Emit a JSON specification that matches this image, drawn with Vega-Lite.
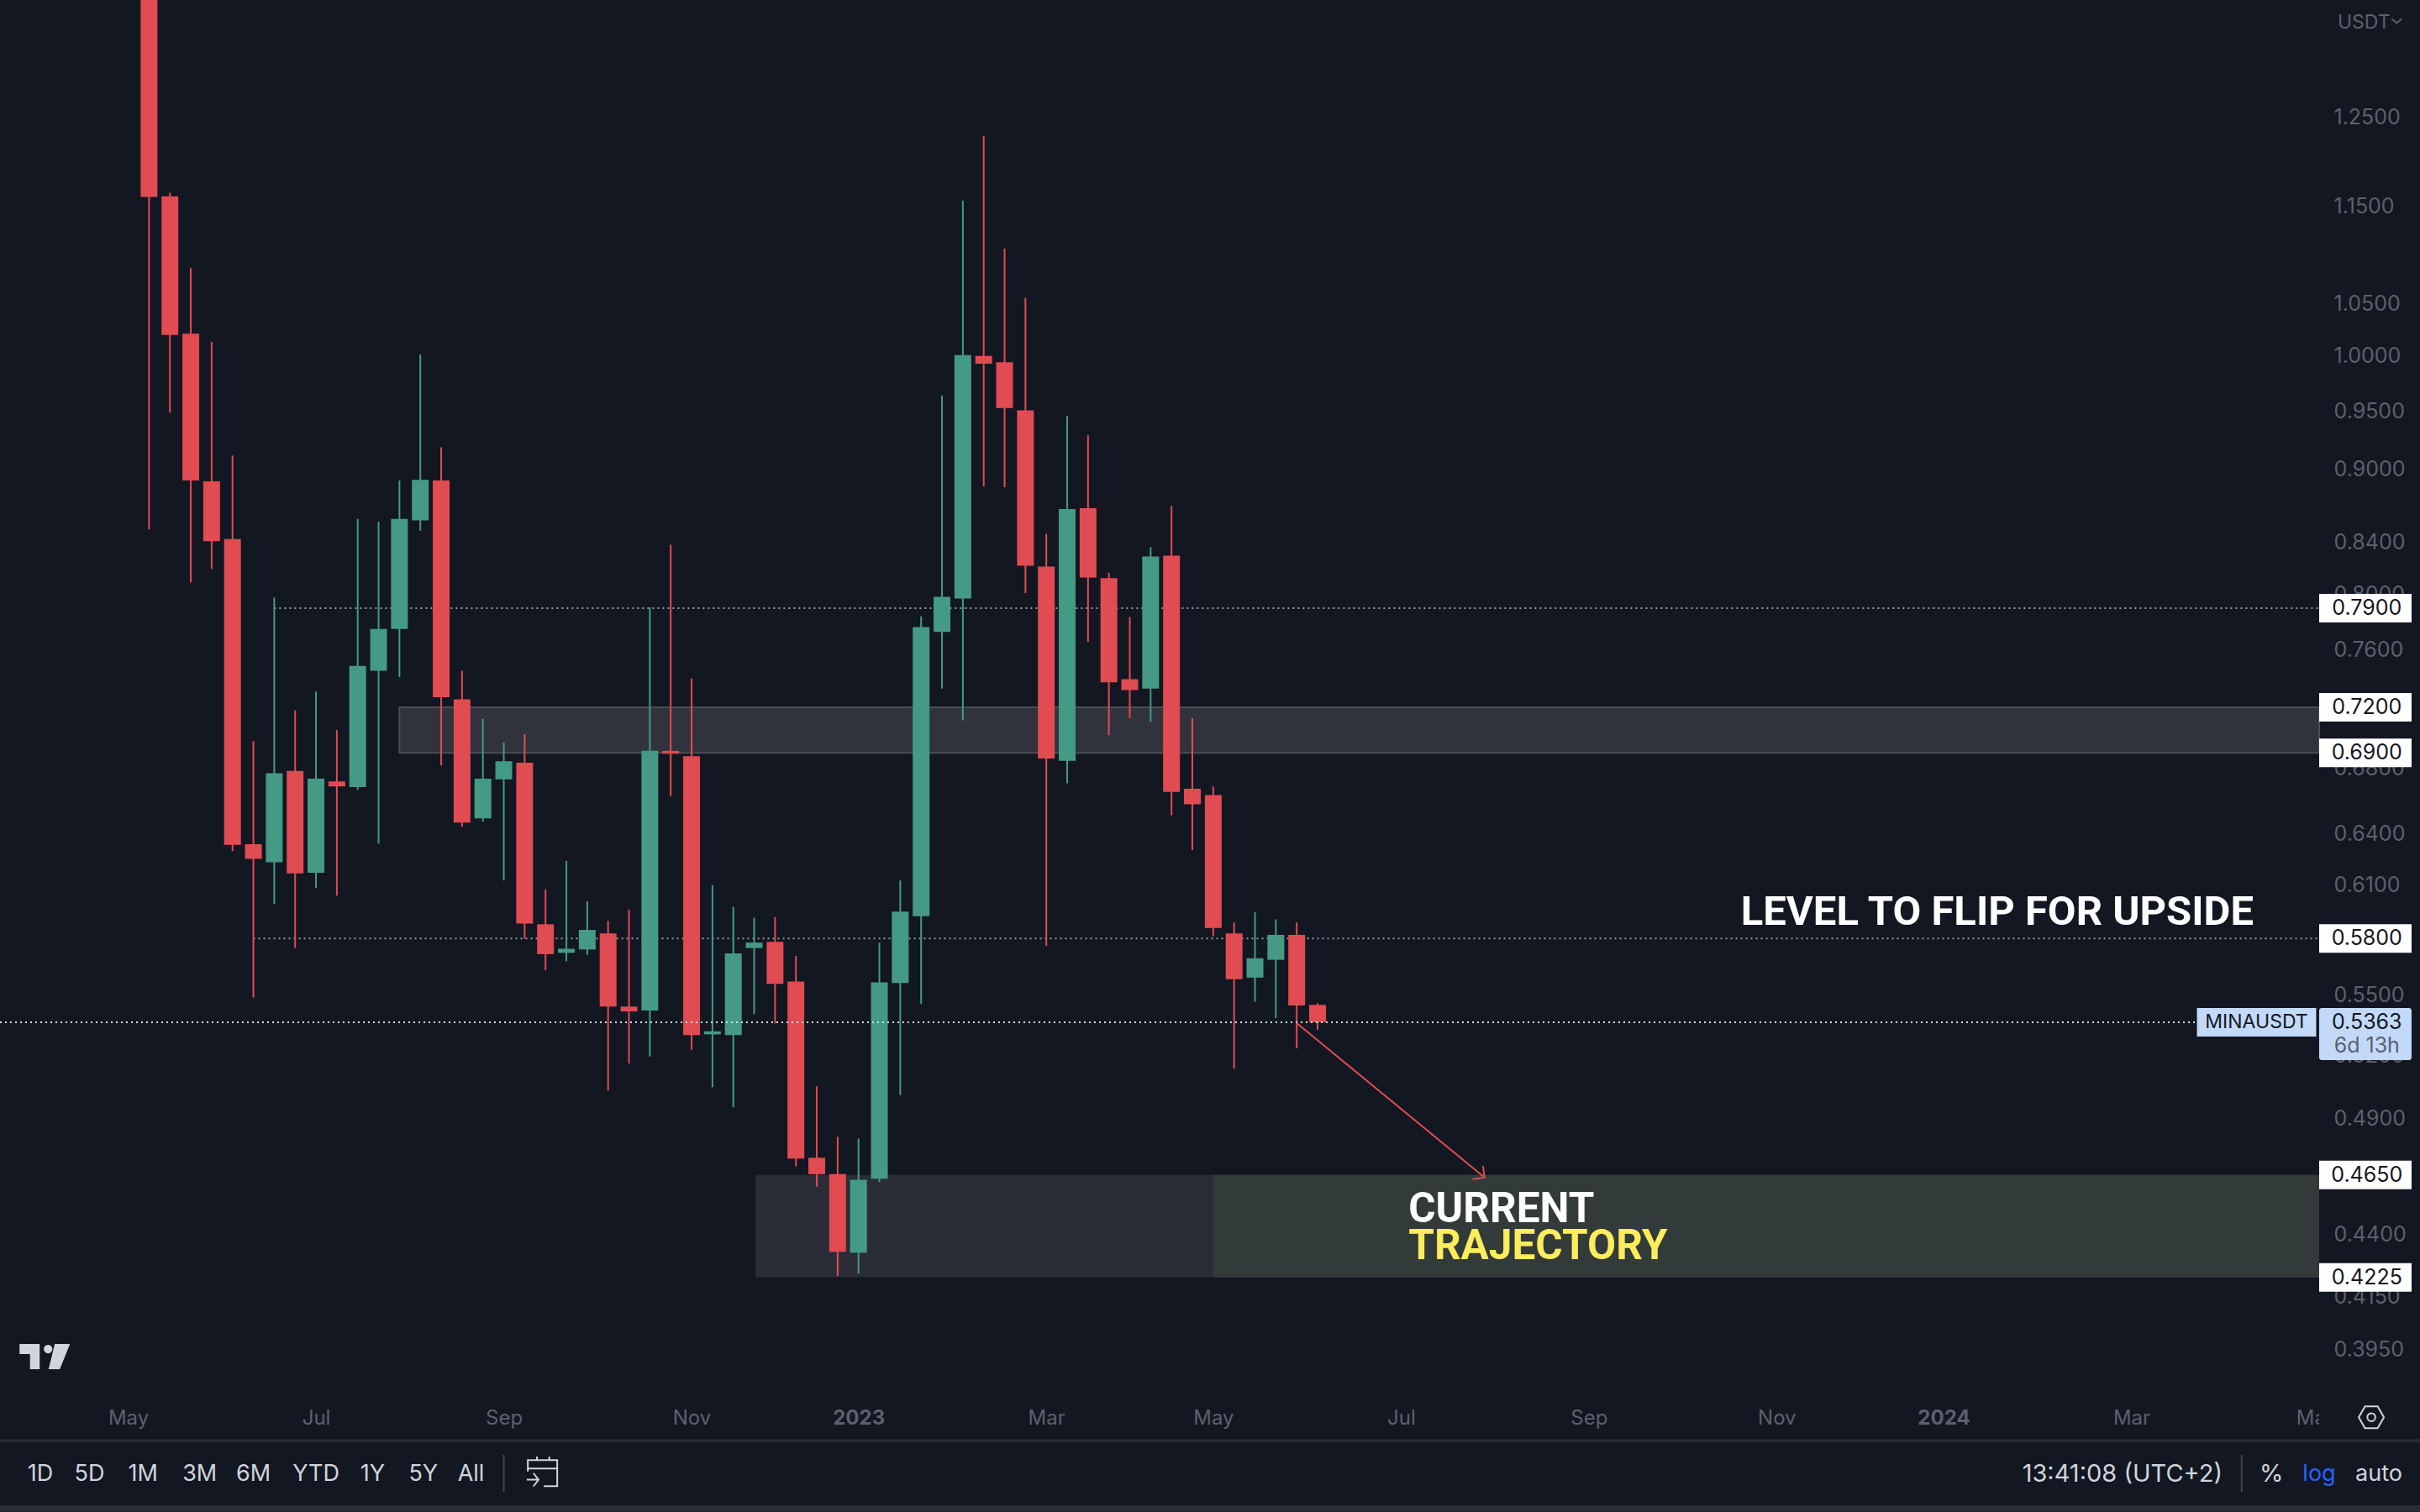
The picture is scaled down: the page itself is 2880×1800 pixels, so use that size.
{
  "$schema": "https://vega.github.io/schema/vega-lite/v6.json",
  "autosize": {"type": "none"},
  "width": 2760,
  "height": 1660,
  "padding": {"left": 0, "top": 0, "right": 120, "bottom": 140},
  "background": "#131722",
  "view": {"stroke": null},
  "config": {"font": "Inter", "scale": {"continuousPadding": 0}},
  "datasets": {
    "candles": [
      {"date":"2022-05-09","open":1.6,"high":1.72,"low":0.8504,"close":1.1603},
      {"date":"2022-05-16","open":1.161,"high":1.165,"low":0.9487,"close":1.0199},
      {"date":"2022-05-23","open":1.0212,"high":1.0857,"low":0.8093,"close":0.8901},
      {"date":"2022-05-30","open":0.8895,"high":1.0133,"low":0.8194,"close":0.841},
      {"date":"2022-06-06","open":0.8427,"high":0.9112,"low":0.6294,"close":0.6331},
      {"date":"2022-06-13","open":0.6335,"high":0.6976,"low":0.5489,"close":0.6249},
      {"date":"2022-06-20","open":0.6229,"high":0.7978,"low":0.599,"close":0.677},
      {"date":"2022-06-27","open":0.6784,"high":0.7179,"low":0.5749,"close":0.6164},
      {"date":"2022-07-04","open":0.6168,"high":0.7306,"low":0.608,"close":0.6735},
      {"date":"2022-07-11","open":0.6718,"high":0.7049,"low":0.6037,"close":0.6687},
      {"date":"2022-07-18","open":0.6683,"high":0.8587,"low":0.6665,"close":0.7485},
      {"date":"2022-07-25","open":0.7451,"high":0.8565,"low":0.6339,"close":0.7747},
      {"date":"2022-08-01","open":0.7747,"high":0.8901,"low":0.7407,"close":0.8587},
      {"date":"2022-08-08","open":0.8576,"high":1.0015,"low":0.8493,"close":0.8907},
      {"date":"2022-08-15","open":0.8901,"high":0.9183,"low":0.6819,"close":0.7268},
      {"date":"2022-08-22","open":0.7254,"high":0.7451,"low":0.6439,"close":0.6464},
      {"date":"2022-08-29","open":0.649,"high":0.7123,"low":0.6469,"close":0.6735},
      {"date":"2022-09-05","open":0.6731,"high":0.6967,"low":0.6124,"close":0.6846},
      {"date":"2022-09-12","open":0.6837,"high":0.7022,"low":0.5798,"close":0.5882},
      {"date":"2022-09-19","open":0.5878,"high":0.6073,"low":0.5631,"close":0.5716},
      {"date":"2022-09-26","open":0.5723,"high":0.6237,"low":0.5678,"close":0.5745},
      {"date":"2022-10-03","open":0.5741,"high":0.6006,"low":0.5712,"close":0.5847},
      {"date":"2022-10-10","open":0.5828,"high":0.5897,"low":0.5031,"close":0.5443},
      {"date":"2022-10-17","open":0.5443,"high":0.5959,"low":0.516,"close":0.5418},
      {"date":"2022-10-24","open":0.5422,"high":0.7906,"low":0.5194,"close":0.6913},
      {"date":"2022-10-31","open":0.6913,"high":0.8383,"low":0.6626,"close":0.6895},
      {"date":"2022-11-07","open":0.6879,"high":0.7397,"low":0.5227,"close":0.5299},
      {"date":"2022-11-14","open":0.5303,"high":0.6097,"low":0.5047,"close":0.5318},
      {"date":"2022-11-21","open":0.5299,"high":0.5974,"low":0.4953,"close":0.572},
      {"date":"2022-11-28","open":0.5749,"high":0.5914,"low":0.5404,"close":0.5778},
      {"date":"2022-12-05","open":0.5782,"high":0.5918,"low":0.5357,"close":0.5559},
      {"date":"2022-12-12","open":0.5572,"high":0.5707,"low":0.4687,"close":0.4721},
      {"date":"2022-12-19","open":0.4725,"high":0.5051,"low":0.4599,"close":0.4653},
      {"date":"2022-12-26","open":0.4653,"high":0.4818,"low":0.423,"close":0.4327},
      {"date":"2023-01-02","open":0.4324,"high":0.4811,"low":0.424,"close":0.4629},
      {"date":"2023-01-09","open":0.4633,"high":0.5778,"low":0.4619,"close":0.5567},
      {"date":"2023-01-16","open":0.5564,"high":0.6124,"low":0.5011,"close":0.5948},
      {"date":"2023-01-23","open":0.5922,"high":0.784,"low":0.5456,"close":0.7761},
      {"date":"2023-01-30","open":0.7727,"high":0.9637,"low":0.7328,"close":0.7984},
      {"date":"2023-02-06","open":0.7972,"high":1.1566,"low":0.7113,"close":1.0008},
      {"date":"2023-02-13","open":1.0001,"high":1.2284,"low":0.8852,"close":0.9929},
      {"date":"2023-02-20","open":0.9943,"high":1.1056,"low":0.8845,"close":0.9526},
      {"date":"2023-02-27","open":0.9505,"high":1.0561,"low":0.8013,"close":0.8219},
      {"date":"2023-03-06","open":0.8213,"high":0.8468,"low":0.5761,"close":0.6864},
      {"date":"2023-03-13","open":0.6849,"high":0.9457,"low":0.6706,"close":0.8667},
      {"date":"2023-03-20","open":0.8673,"high":0.9287,"low":0.7654,"close":0.813},
      {"date":"2023-03-27","open":0.8124,"high":0.8166,"low":0.7015,"close":0.737},
      {"date":"2023-04-03","open":0.7392,"high":0.7834,"low":0.7128,"close":0.7317},
      {"date":"2023-04-10","open":0.7328,"high":0.8364,"low":0.7102,"close":0.8291},
      {"date":"2023-04-17","open":0.8297,"high":0.8692,"low":0.6509,"close":0.6653},
      {"date":"2023-04-24","open":0.6672,"high":0.7128,"low":0.63,"close":0.6576},
      {"date":"2023-05-01","open":0.6633,"high":0.6686,"low":0.5812,"close":0.5858},
      {"date":"2023-05-08","open":0.5828,"high":0.5888,"low":0.5136,"close":0.5584},
      {"date":"2023-05-15","open":0.5592,"high":0.5944,"low":0.5467,"close":0.5694},
      {"date":"2023-05-22","open":0.5686,"high":0.5905,"low":0.5385,"close":0.582},
      {"date":"2023-05-29","open":0.582,"high":0.5888,"low":0.5234,"close":0.5448},
      {"date":"2023-06-05","open":0.5451,"high":0.5459,"low":0.5326,"close":0.5363}
    ],
    "levels": [
      {"date":"2022-06-20","end":"2024-05-06","price":0.79},
      {"date":"2022-06-13","end":"2024-05-06","price":0.58}
    ],
    "tags": [
      {"date":"2024-05-06","end":"2024-06-06","price":0.79},
      {"date":"2024-05-06","end":"2024-06-06","price":0.72},
      {"date":"2024-05-06","end":"2024-06-06","price":0.69},
      {"date":"2024-05-06","end":"2024-06-06","price":0.58},
      {"date":"2024-05-06","end":"2024-06-06","price":0.465},
      {"date":"2024-05-06","end":"2024-06-06","price":0.4225}
    ],
    "tagLabels": [
      {"label":"0.7900","date":"2024-05-22","price":0.79},
      {"label":"0.7200","date":"2024-05-22","price":0.72},
      {"label":"0.6900","date":"2024-05-22","price":0.69},
      {"label":"0.5800","date":"2024-05-22","price":0.58},
      {"label":"0.4650","date":"2024-05-22","price":0.465},
      {"label":"0.4225","date":"2024-05-22","price":0.4225},
      {"label":"0.5363","date":"2024-05-22","price":0.5363}
    ],
    "arrow": [
      {"part":"shaft","seq":1,"date":"2023-05-29","price":0.5359},
      {"part":"shaft","seq":2,"date":"2023-07-31","price":0.4639},
      {"part":"head","seq":1,"date":"2023-07-30T12:00:00Z","price":0.4689},
      {"part":"head","seq":2,"date":"2023-07-31","price":0.4639},
      {"part":"head","seq":3,"date":"2023-07-27","price":0.4631}
    ],
    "toolbar": [
      {"label":"1D","date":"2022-04-02T12:00:00Z","price":0.3515},
      {"label":"5D","date":"2022-04-19","price":0.3515},
      {"label":"1M","date":"2022-05-07","price":0.3515},
      {"label":"3M","date":"2022-05-26","price":0.3515},
      {"label":"6M","date":"2022-06-13","price":0.3515},
      {"label":"YTD","date":"2022-07-04","price":0.3515},
      {"label":"1Y","date":"2022-07-23","price":0.3515},
      {"label":"5Y","date":"2022-08-09","price":0.3515},
      {"label":"All","date":"2022-08-25","price":0.3515},
      {"label":"log","date":"2024-05-06","price":0.3515},
      {"label":"auto","date":"2024-05-26","price":0.3515}
    ]
  },
  "encoding": {
    "x": {
      "field": "date",
      "type": "temporal",
      "scale": {"type": "utc", "domain": ["2022-03-20", "2024-05-06"], "nice": false, "padding": 0},
      "axis": {
        "title": null,
        "grid": false,
        "domain": false,
        "ticks": false,
        "values": ["2022-05-02","2022-07-04","2022-09-05","2022-11-07","2023-01-02","2023-03-06","2023-05-01","2023-07-03","2023-09-04","2023-11-06","2024-01-01","2024-03-04","2024-05-05"],
        "labelExpr": "utcmonth(datum.value) === 0 ? utcFormat(datum.value, '%Y') : utcFormat(datum.value, '%b')",
        "labelFontWeight": {"condition": {"test": "utcmonth(datum.value) === 0", "value": 700}, "value": 400},
        "labelColor": "#5d606b",
        "labelFontSize": 24,
        "labelPadding": 16,
        "labelOverlap": false,
        "labelFlush": false,
        "labelBound": false
      }
    },
    "y": {
      "field": "price",
      "type": "quantitative",
      "scale": {"type": "log", "domain": [0.3787, 1.3951], "nice": false, "zero": false, "padding": 0},
      "axis": {
        "orient": "right",
        "title": null,
        "grid": false,
        "domain": false,
        "ticks": false,
        "values": [1.25,1.15,1.05,1,0.95,0.9,0.84,0.8,0.76,0.68,0.64,0.61,0.55,0.52,0.49,0.44,0.415,0.395],
        "format": ".4f",
        "labelColor": "#5d606b",
        "labelFontSize": 25,
        "labelPadding": 17,
        "labelOverlap": false,
        "labelBound": false,
        "labelFlush": false
      }
    }
  },
  "layer": [
    {
      "data": {"values": [{"date":"2022-11-28T10:00:00Z","end":"2024-05-06","price":0.4225,"price2":0.465}]},
      "mark": {"type": "rect", "fill": "#2a2d37"},
      "encoding": {"x2": {"field": "end"}, "y2": {"field": "price2"}}
    },
    {
      "data": {"values": [{"date":"2023-05-01","end":"2024-05-06","price":0.4225,"price2":0.465}]},
      "mark": {"type": "rect", "fill": "#333b3a"},
      "encoding": {"x2": {"field": "end"}, "y2": {"field": "price2"}}
    },
    {
      "data": {"values": [{"date":"2022-08-01","end":"2024-05-06","price":0.69,"price2":0.72}]},
      "mark": {"type": "rect", "fill": "#30333d", "stroke": "#4a4d56", "strokeWidth": 2},
      "encoding": {"x2": {"field": "end"}, "y2": {"field": "price2"}}
    },
    {
      "data": {"name": "levels"},
      "mark": {"type": "rule", "color": "#9598a1", "strokeWidth": 2, "strokeDash": [2, 4]},
      "encoding": {"x2": {"field": "end"}}
    },
    {
      "data": {"name": "candles"},
      "mark": {"type": "rule", "strokeWidth": 2},
      "encoding": {
        "y": {
          "field": "low",
          "type": "quantitative",
          "scale": {"type": "log", "domain": [0.3787, 1.3951], "nice": false, "zero": false, "padding": 0},
          "axis": {"orient": "right", "title": null, "grid": false, "domain": false, "ticks": false, "values": [1.25,1.15,1.05,1,0.95,0.9,0.84,0.8,0.76,0.68,0.64,0.61,0.55,0.52,0.49,0.44,0.415,0.395], "format": ".4f", "labelColor": "#5d606b", "labelFontSize": 25, "labelPadding": 17, "labelOverlap": false, "labelBound": false, "labelFlush": false}
        },
        "y2": {"field": "high"},
        "color": {"condition": {"test": "datum.close < datum.open", "value": "#e14b52"}, "value": "#459a85"}
      }
    },
    {
      "data": {"name": "candles"},
      "mark": {"type": "bar", "size": 20},
      "encoding": {
        "y": {
          "field": "open",
          "type": "quantitative",
          "scale": {"type": "log", "domain": [0.3787, 1.3951], "nice": false, "zero": false, "padding": 0},
          "axis": {"orient": "right", "title": null, "grid": false, "domain": false, "ticks": false, "values": [1.25,1.15,1.05,1,0.95,0.9,0.84,0.8,0.76,0.68,0.64,0.61,0.55,0.52,0.49,0.44,0.415,0.395], "format": ".4f", "labelColor": "#5d606b", "labelFontSize": 25, "labelPadding": 17, "labelOverlap": false, "labelBound": false, "labelFlush": false}
        },
        "y2": {"field": "close"},
        "color": {"condition": {"test": "datum.close < datum.open", "value": "#e14b52"}, "value": "#459a85"}
      }
    },
    {
      "data": {"values": [{"date":"2022-03-20","end":"2024-03-26","price":0.5363}]},
      "mark": {"type": "rule", "color": "#cfdff5", "strokeWidth": 2, "strokeDash": [2, 4]},
      "encoding": {"x2": {"field": "end"}}
    },
    {
      "data": {"name": "arrow"},
      "mark": {"type": "line", "color": "#e14b52", "strokeWidth": 2},
      "encoding": {"detail": {"field": "part"}, "order": {"field": "seq"}}
    },
    {
      "data": {"values": [{"label":"LEVEL TO FLIP FOR UPSIDE","date":"2023-10-25","price":0.5945}]},
      "mark": {"type": "text", "font": "Roboto", "fontWeight": 700, "fontSize": 49, "align": "left", "baseline": "middle", "color": "#ffffff"},
      "encoding": {"text": {"field": "label"}}
    },
    {
      "data": {"values": [{"label":"CURRENT","date":"2023-07-05T12:00:00Z","price":0.4501}]},
      "mark": {"type": "text", "font": "Roboto", "fontWeight": 700, "fontSize": 49.5, "align": "left", "baseline": "middle", "color": "#ffffff"},
      "encoding": {"text": {"field": "label"}}
    },
    {
      "data": {"values": [{"label":"TRAJECTORY","date":"2023-07-05T12:00:00Z","price":0.4348}]},
      "mark": {"type": "text", "font": "Roboto", "fontWeight": 700, "fontSize": 49.5, "align": "left", "baseline": "middle", "color": "#fbed5c"},
      "encoding": {"text": {"field": "label"}}
    },
    {
      "data": {"name": "tags"},
      "mark": {"type": "rule", "strokeWidth": 34, "color": "#ffffff"},
      "encoding": {"x2": {"field": "end"}}
    },
    {
      "data": {"values": [{"date":"2024-05-06","end":"2024-06-06","price":0.5177,"price2":0.5435}]},
      "mark": {"type": "rect", "fill": "#c2d9f8", "cornerRadius": 3},
      "encoding": {"x2": {"field": "end"}, "y2": {"field": "price2"}}
    },
    {
      "data": {"values": [{"date":"2024-03-26","end":"2024-05-05","price":0.5363}]},
      "mark": {"type": "rule", "strokeWidth": 34, "color": "#c2d9f8"},
      "encoding": {"x2": {"field": "end"}}
    },
    {
      "data": {"name": "tagLabels"},
      "mark": {"type": "text", "fontSize": 25, "baseline": "middle", "color": "#131722"},
      "encoding": {"text": {"field": "label"}}
    },
    {
      "data": {"values": [{"label":"MINAUSDT","date":"2024-04-15","price":0.5363}]},
      "mark": {"type": "text", "fontSize": 23, "baseline": "middle", "color": "#131722"},
      "encoding": {"text": {"field": "label"}}
    },
    {
      "data": {"values": [{"label":"6d 13h","date":"2024-05-22","price":0.5247}]},
      "mark": {"type": "text", "fontSize": 25, "baseline": "middle", "color": "#5a6270"},
      "encoding": {"text": {"field": "label"}}
    },
    {
      "data": {"values": [{"label":"USDT","date":"2024-05-21","price":1.3659}]},
      "mark": {"type": "text", "fontSize": 23, "baseline": "middle", "color": "#5d606b"},
      "encoding": {"text": {"field": "label"}}
    },
    {
      "data": {"values": [{"date":"2024-06-01","price":1.3681}]},
      "mark": {"type": "point", "shape": "M-1,-.4 L0,.4 L1,-.4", "size": 144, "filled": false, "fill": "transparent", "stroke": "#5d606b", "strokeWidth": 2, "opacity": 1}
    },
    {
      "data": {"values": [{"date":"2024-05-06","end":"2024-06-09","price":0.3627,"price2":0.3787}]},
      "mark": {"type": "rect", "fill": "#131722"},
      "encoding": {"x2": {"field": "end"}, "y2": {"field": "price2"}}
    },
    {
      "data": {"values": [{"date":"2022-03-20","end":"2024-06-09","price":0.3627}]},
      "mark": {"type": "rule", "color": "#2a2e39", "strokeWidth": 3},
      "encoding": {"x2": {"field": "end"}}
    },
    {
      "data": {"values": [{"date":"2022-03-20","end":"2024-06-09","price":0.3393,"price2":0.3414}]},
      "mark": {"type": "rect", "fill": "#2a2e39"},
      "encoding": {"x2": {"field": "end"}, "y2": {"field": "price2"}}
    },
    {
      "data": {"values": [
        {"date":"2022-09-05","price":0.3457,"price2":0.3579},
        {"date":"2024-04-10","price":0.3457,"price2":0.3579}
      ]},
      "mark": {"type": "rule", "color": "#434651", "strokeWidth": 2},
      "encoding": {"y2": {"field": "price2"}}
    },
    {
      "data": {"name": "toolbar"},
      "mark": {"type": "text", "fontSize": 27, "baseline": "middle"},
      "encoding": {
        "text": {"field": "label"},
        "color": {"condition": {"test": "datum.label === 'log'", "value": "#2962ff"}, "value": "#d1d4dc"}
      }
    },
    {
      "data": {"values": [
        {"label":"13:41:08 (UTC+2)","date":"2024-03-01","price":0.3515},
        {"label":"%","date":"2024-04-20","price":0.3515}
      ]},
      "mark": {"type": "text", "fontSize": 29, "baseline": "middle", "color": "#d1d4dc"},
      "encoding": {"text": {"field": "label"}}
    },
    {
      "data": {"values": [{"date":"2022-04-04","price":0.3923}]},
      "mark": {"type": "point", "shape": "M-1,-.5 L-.2,-.5 L-.2,.5 L-.583,.5 L-.583,-.1 L-1,-.1 Z M-.037,-.3 A.17,.17 0 1 0 .303,-.3 A.17,.17 0 1 0 -.037,-.3 Z M.4,-.5 L1,-.5 L.6,.5 L.153,.5 Z", "size": 3600, "filled": true, "fill": "#d1d4dc", "strokeWidth": 0, "opacity": 1}
    },
    {
      "data": {"values": [{"date":"2022-09-18","price":0.3523}]},
      "mark": {"type": "point", "shape": "M-1,-.02 L-1,-.78 L1,-.78 L1,.99 L.09,.99 M-1,-.21 L1,-.21 M-.38,-1.03 L-.38,-.78 M.46,-1.03 L.46,-.78 M-1.07,.55 L-.27,.55 M-.62,.1 L-.27,.55 L-.62,1", "size": 1225, "filled": false, "fill": "transparent", "stroke": "#d1d4dc", "strokeWidth": 2, "opacity": 1}
    },
    {
      "data": {"values": [{"date":"2024-05-23T12:00:00Z","price":0.3707}]},
      "mark": {"type": "point", "shape": "M-1,0 L-.5,-.87 L.5,-.87 L1,0 L.5,.87 L-.5,.87 Z", "size": 900, "filled": false, "fill": "transparent", "stroke": "#d1d4dc", "strokeWidth": 2, "opacity": 1}
    },
    {
      "data": {"values": [{"date":"2024-05-23T12:00:00Z","price":0.3707}]},
      "mark": {"type": "point", "shape": "circle", "size": 90, "filled": false, "stroke": "#d1d4dc", "strokeWidth": 2, "opacity": 1}
    }
  ]
}
